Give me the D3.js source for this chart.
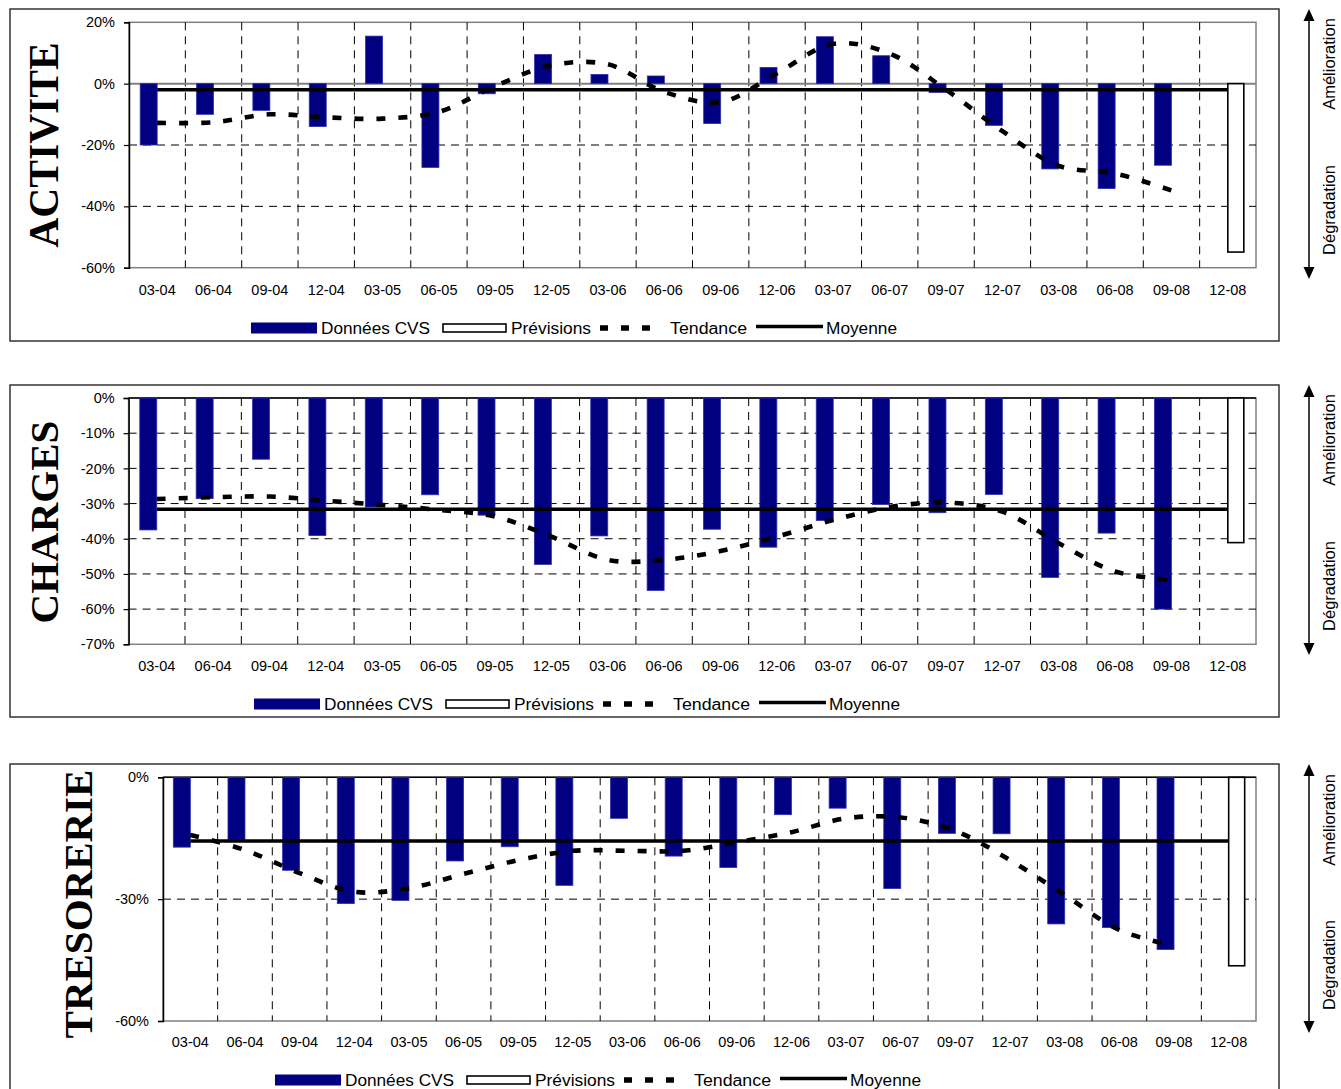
<!DOCTYPE html>
<html>
<head>
<meta charset="utf-8">
<script src="https://cdn.jsdelivr.net/npm/d3@7"></script>
<style>
  html, body { margin: 0; padding: 0; background: #fff; }
  svg { display: block; }
  text { font-family: "Liberation Sans", Arial, sans-serif; fill: #000; }
</style>
</head>
<body>
<svg id="chart" width="1341" height="1089"></svg>
<script>
// Quarterly categories (month-year)
const categories = ["03-04","06-04","09-04","12-04","03-05","06-05","09-05","12-05","03-06","06-06",
                    "09-06","12-06","03-07","06-07","09-07","12-07","03-08","06-08","09-08","12-08"];

// ACTIVITE (%)
const activiteCVS = [-20, -10, -8.7, -14, 15.5, -27.3, -3.3, 9.5, 3, 2.5,
                     -13, 5.3, 15.3, 9.1, -2.9, -13.6, -27.8, -34.2, -26.6, null];
const activitePrevisions = [null, null, null, null, null, null, null, null, null, null,
                            null, null, null, null, null, null, null, null, null, -54.9];
const activiteTendance = [-12.8, -12.6, -10, -11, -11.4, -9.2, -0.8, 6, 6.3, -2.7,
                          -6, 3.4, 13, 9.8, -2, -15.5, -26.8, -29.3, -34.8, null];
const activiteMoyenne = -2.0;
const activiteTicks = [20, 0, -20, -40, -60];

// CHARGES (%)
const chargesCVS = [-37.5, -28.6, -17.4, -39.1, -31, -27.5, -33.3, -47.3, -39.2, -54.7,
                    -37.3, -42.4, -34.8, -30.3, -32.6, -27.4, -51, -38.4, -60, null];
const chargesPrevisions = [null, null, null, null, null, null, null, null, null, null,
                           null, null, null, null, null, null, null, null, null, -41.1];
const chargesTendance = [-28.7, -28.2, -28, -29.2, -30.4, -31.8, -33.7, -39.4, -46, -46,
                         -43.5, -39.4, -34.7, -31, -29.7, -32.3, -41.3, -49.3, -51.7, null];
const chargesMoyenne = -31.6;
const chargesTicks = [0, -10, -20, -30, -40, -50, -60, -70];

// TRESORERIE (%)
const tresorerieCVS = [-17.2, -15.4, -22.9, -31.1, -30.3, -20.6, -17.1, -26.6, -10.1, -19.4,
                       -22.2, -9.2, -7.6, -27.4, -13.8, -13.9, -36.1, -37, -42.4, null];
const tresoreriePrevisions = [null, null, null, null, null, null, null, null, null, null,
                              null, null, null, null, null, null, null, null, null, -46.4];
const tresorerieTendance = [-14.2, -17.9, -23.6, -28.2, -27.3, -23.8, -20.4, -18.1, -18.1, -18.1,
                            -16, -13.5, -10.1, -9.9, -13.2, -20.4, -29, -37.6, -41.5, null];
const tresorerieMoyenne = -15.7;
const tresorerieTicks = [0, -30, -60];

const legendLabels = ["Données CVS", "Prévisions", "Tendance", "Moyenne"];

const NAVY = "#000080";
const GRID_DASH = "8,6";
const TREND_DASH = "9,13";

const svg = d3.select("#chart");

const panels = [
  { title: "ACTIVITE", cvs: activiteCVS, prev: activitePrevisions, trend: activiteTendance,
    moy: activiteMoyenne, ticks: activiteTicks, domain: [-60, 20],
    box: [10, 9, 1279, 341], plotX: [129, 1256], plotY: [267.7, 22.3],
    titleX: 58, titleY: 145, titleSize: 41.5, xLabelY: 295, legendY: 328, legendX: 251,
    arrow: [9, 279], amel: 64, degr: 210 },
  { title: "CHARGES", cvs: chargesCVS, prev: chargesPrevisions, trend: chargesTendance,
    moy: chargesMoyenne, ticks: chargesTicks, domain: [-70, 0],
    box: [10, 385, 1279, 717], plotX: [128.6, 1256], plotY: [644.3, 398],
    titleX: 58, titleY: 522, titleSize: 41, xLabelY: 671, legendY: 704, legendX: 254,
    arrow: [385, 655], amel: 440, degr: 586 },
  { title: "TRESORERIE", cvs: tresorerieCVS, prev: tresoreriePrevisions, trend: tresorerieTendance,
    moy: tresorerieMoyenne, ticks: tresorerieTicks, domain: [-60, 0],
    box: [10, 764, 1279, 1110], plotX: [163, 1256], plotY: [1021, 777.3],
    titleX: 91.5, titleY: 904, titleSize: 41, xLabelY: 1047, legendY: 1080, legendX: 275,
    arrow: [764, 1033], amel: 820, degr: 965 }
];

panels.forEach(drawPanel);

function drawPanel(p) {
  const g = svg.append("g");
  const [bx0, by0, bx1, by1] = p.box;

  // outer frame
  g.append("rect").attr("x", bx0).attr("y", by0)
    .attr("width", bx1 - bx0).attr("height", by1 - by0)
    .attr("fill", "none").attr("stroke", "#333").attr("stroke-width", 1.5);

  const x = d3.scaleBand().domain(categories).range(p.plotX).paddingInner(0).paddingOuter(0);
  const bw = x.bandwidth();
  const barW = 17;
  const pad = (bw / barW - 2) / 2;
  const xs = d3.scaleBand().domain(["cvs", "prev"]).range([0, bw]).paddingInner(0).paddingOuter(pad);
  const y = d3.scaleLinear().domain(p.domain).range(p.plotY);
  const cx = c => x(c) + bw / 2;

  const [px0, px1] = p.plotX;
  const yTop = y(p.domain[1]), yBot = y(p.domain[0]);

  // plot area border
  g.append("rect").attr("x", px0).attr("y", yTop)
    .attr("width", px1 - px0).attr("height", yBot - yTop)
    .attr("fill", "none").attr("stroke", "#808080").attr("stroke-width", 1.5);

  // horizontal dashed gridlines
  g.selectAll(".hgrid").data(p.ticks.filter(t => t !== 0 && t !== p.domain[0] && t !== p.domain[1]))
    .enter().append("line")
    .attr("x1", px0).attr("x2", px1).attr("y1", d => y(d)).attr("y2", d => y(d))
    .attr("stroke", "#000").attr("stroke-width", 1).attr("stroke-dasharray", GRID_DASH);

  // vertical dashed gridlines between categories
  g.selectAll(".vgrid").data(categories.slice(1)).enter().append("line")
    .attr("x1", d => x(d)).attr("x2", d => x(d)).attr("y1", yTop).attr("y2", yBot)
    .attr("stroke", "#000").attr("stroke-width", 1).attr("stroke-dasharray", GRID_DASH);

  // zero line (category axis)
  const zeroIsTop = p.domain[1] === 0;
  g.append("line").attr("x1", px0).attr("x2", px1).attr("y1", y(0)).attr("y2", y(0))
    .attr("stroke", zeroIsTop ? "#000" : "#808080").attr("stroke-width", zeroIsTop ? 1.5 : 2);

  // bars: seasonally adjusted data
  g.selectAll(".cvs").data(categories.map((c, i) => [c, p.cvs[i]]).filter(d => d[1] != null))
    .enter().append("rect")
    .attr("x", d => x(d[0]) + xs("cvs"))
    .attr("width", xs.bandwidth())
    .attr("y", d => Math.min(y(0), y(d[1])))
    .attr("height", d => Math.abs(y(d[1]) - y(0)))
    .attr("fill", NAVY).attr("stroke", "#2f2fb0").attr("stroke-width", 0.8);

  // bars: forecasts
  g.selectAll(".prev").data(categories.map((c, i) => [c, p.prev[i]]).filter(d => d[1] != null))
    .enter().append("rect")
    .attr("x", d => x(d[0]) + xs("prev"))
    .attr("width", xs.bandwidth() - 1)
    .attr("y", d => Math.min(y(0), y(d[1])))
    .attr("height", d => Math.abs(y(d[1]) - y(0)))
    .attr("fill", "#fff").attr("stroke", "#000").attr("stroke-width", 1.6);

  // value axis
  const yAxis = d3.axisLeft(y).tickValues(p.ticks).tickSize(5).tickPadding(9)
    .tickFormat(d => d + "%");
  const ya = g.append("g").attr("transform", `translate(${px0},0)`).call(yAxis);
  ya.select(".domain").attr("stroke", "#000").attr("stroke-width", 1.5);
  ya.selectAll(".tick line").attr("stroke", "#000").attr("stroke-width", 1.2);
  ya.selectAll(".tick text").attr("font-size", 14.5)
    .attr("font-family", "'Liberation Sans', Arial, sans-serif").attr("fill", "#000");

  // category labels
  g.selectAll(".xl").data(categories).enter().append("text")
    .attr("x", d => cx(d)).attr("y", p.xLabelY)
    .attr("text-anchor", "middle").attr("font-size", 14.5).text(d => d);

  // average line
  g.append("line")
    .attr("x1", cx(categories[0])).attr("x2", cx(categories[categories.length - 1]))
    .attr("y1", y(p.moy)).attr("y2", y(p.moy))
    .attr("stroke", "#000").attr("stroke-width", 3.5);

  // trend line
  const trendLine = d3.line()
    .defined(d => d[1] != null)
    .x(d => cx(d[0])).y(d => y(d[1]))
    .curve(d3.curveCatmullRom.alpha(0.5));
  g.append("path").datum(categories.map((c, i) => [c, p.trend[i]]))
    .attr("d", trendLine).attr("fill", "none")
    .attr("stroke", "#000").attr("stroke-width", 4.6).attr("stroke-dasharray", TREND_DASH);

  // panel title (rotated)
  g.append("text")
    .attr("transform", `translate(${p.titleX},${p.titleY}) rotate(-90)`)
    .attr("text-anchor", "middle")
    .style("font-family", "'Liberation Serif', 'Times New Roman', serif")
    .attr("font-weight", "bold").attr("font-size", p.titleSize)
    .text(p.title);

  // legend
  const lx = p.legendX, ly = p.legendY;
  const L = g.append("g");
  const legendText = (dx, label, len) => L.append("text")
    .attr("x", lx + dx).attr("y", ly + 6).attr("font-size", 16)
    .attr("textLength", len).attr("lengthAdjust", "spacingAndGlyphs").text(label);
  L.append("rect").attr("x", lx).attr("y", ly - 5.5).attr("width", 66).attr("height", 11).attr("fill", NAVY);
  legendText(70, legendLabels[0], 109);
  L.append("rect").attr("x", lx + 192).attr("y", ly - 4).attr("width", 63).attr("height", 8)
    .attr("fill", "#fff").attr("stroke", "#000").attr("stroke-width", 1.6);
  legendText(260, legendLabels[1], 80);
  L.append("line").attr("x1", lx + 349).attr("x2", lx + 412).attr("y1", ly).attr("y2", ly)
    .attr("stroke", "#000").attr("stroke-width", 5.5).attr("stroke-dasharray", "8,13");
  legendText(419, legendLabels[2], 77);
  L.append("line").attr("x1", lx + 505).attr("x2", lx + 572).attr("y1", ly - 1.5).attr("y2", ly - 1.5)
    .attr("stroke", "#000").attr("stroke-width", 3.5);
  legendText(575, legendLabels[3], 71);

  // side arrow: improvement up, degradation down
  const ax = 1309, [ay0, ay1] = p.arrow;
  g.append("line").attr("x1", ax).attr("x2", ax).attr("y1", ay0 + 8).attr("y2", ay1 - 8)
    .attr("stroke", "#000").attr("stroke-width", 1.5);
  g.append("path").attr("d", `M${ax},${ay0} L${ax - 5.5},${ay0 + 12} L${ax + 5.5},${ay0 + 12} Z`).attr("fill", "#000");
  g.append("path").attr("d", `M${ax},${ay1} L${ax - 5.5},${ay1 - 12} L${ax + 5.5},${ay1 - 12} Z`).attr("fill", "#000");
  g.append("text").attr("transform", `translate(1335,${p.amel}) rotate(-90)`)
    .attr("text-anchor", "middle").attr("font-size", 16.5).text("Amélioration");
  g.append("text").attr("transform", `translate(1335,${p.degr}) rotate(-90)`)
    .attr("text-anchor", "middle").attr("font-size", 16.5).text("Dégradation");
}
</script>
</body>
</html>
